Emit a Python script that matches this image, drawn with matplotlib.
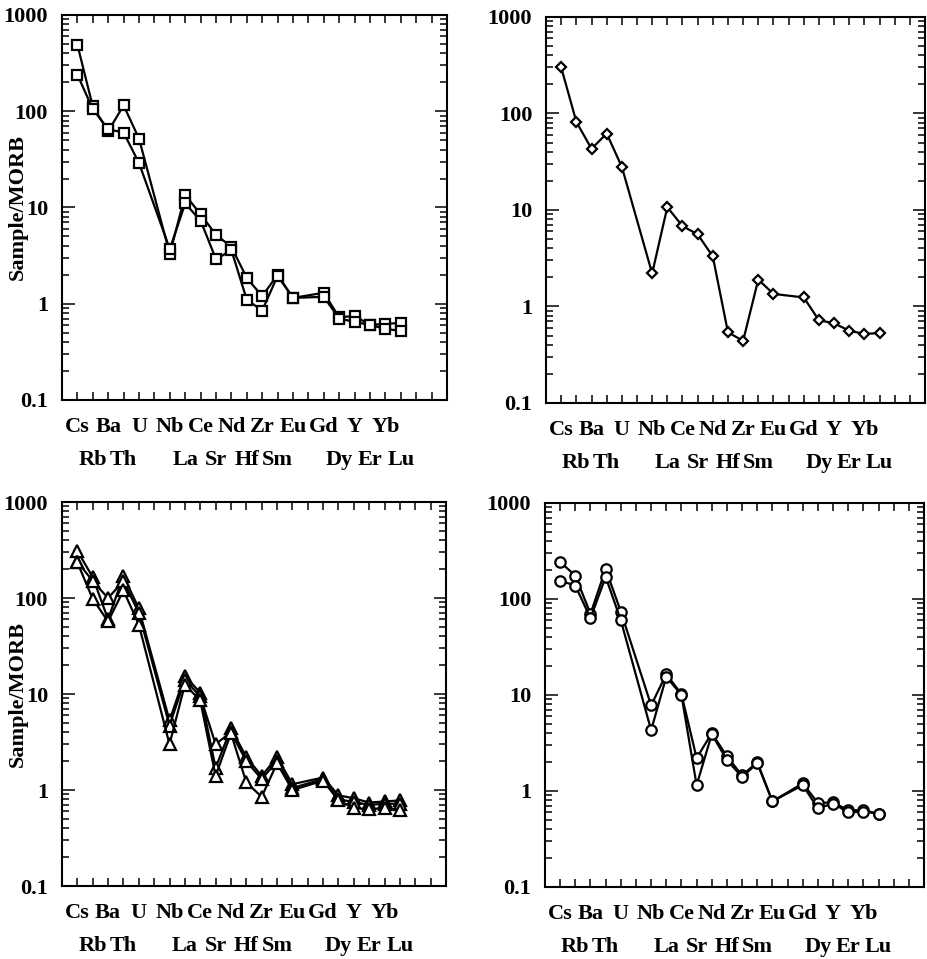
import numpy as np
import matplotlib.pyplot as plt
from matplotlib.ticker import LogLocator, NullFormatter

plt.rcParams['font.family'] = ['Liberation Serif', 'DejaVu Serif']
plt.rcParams['font.weight'] = 'bold'

# x-axis slots of the spider diagram ('' = unlabelled gap)
slots = ['Cs', 'Rb', 'Ba', 'Th', 'U', '', 'Nb', 'La', 'Ce', 'Sr', 'Nd',
         'Hf', 'Zr', 'Sm', 'Eu', '', 'Gd', 'Dy', 'Y', 'Er', 'Yb', 'Lu']
upper_row = ['Cs', 'Ba', 'U', 'Nb', 'Ce', 'Nd', 'Zr', 'Eu', 'Gd', 'Y', 'Yb']
elements = [s for s in slots if s]

# panel 1 (squares)
sq_1 = [490, 112, 62, 115, 52, 3.3, 13.5, 8.5, 5.2, 3.9, 1.85, 1.2, 2.0, 1.15, 1.3, 0.72, 0.75, 0.60, 0.62, 0.63]
sq_2 = [240, 105, 65, 60, 29, 3.7, 11.0, 7.3, 2.9, 3.6, 1.1, 0.85, 1.95, 1.15, 1.18, 0.70, 0.65, 0.60, 0.55, 0.52]

# panel 2 (diamonds)
dm_1 = [300, 82, 43, 62, 28, 2.2, 10.7, 6.8, 5.6, 3.3, 0.54, 0.44, 1.9, 1.35, 1.24, 0.72, 0.67, 0.56, 0.52, 0.53]

# panel 3 (triangles)
tr_1 = [310, 165, 60, 170, 78, 5.3, 15.5, 10.3, 1.7, 4.4, 2.2, 1.4, 2.2, 1.15, 1.35, 0.88, 0.82, 0.74, 0.76, 0.78]
tr_2 = [240, 150, 100, 150, 70, 4.7, 14.0, 9.5, 3.0, 4.0, 2.0, 1.3, 2.0, 1.05, 1.3, 0.80, 0.75, 0.70, 0.72, 0.72]
tr_3 = [235, 98, 57, 120, 53, 3.0, 12.5, 8.6, 1.4, 3.9, 1.2, 0.85, 1.9, 1.0, 1.25, 0.78, 0.65, 0.63, 0.65, 0.62]

# panel 4 (circles)
ci_1 = [243, 175, 70, 205, 74, 7.8, 16.5, 10.2, 2.2, 4.0, 2.3, 1.45, 2.0, 0.78, 1.2, 0.75, 0.76, 0.63, 0.63, 0.58]
ci_2 = [155, 138, 63, 170, 60, 4.3, 15.5, 10.0, 1.15, 3.9, 2.1, 1.4, 1.95, 0.78, 1.15, 0.66, 0.74, 0.60, 0.61, 0.58]

y_ticks = [0.1, 1, 10, 100, 1000]
y_tick_labels = ['0.1', '1', '10', '100', '1000']


def spider(ax, series, marker, ms, ylabel=False):
    x = [slots.index(e) + 1 for e in elements]
    for vals in series:
        ax.plot(x, vals, color='black', lw=1.6, marker=marker, ms=ms,
                mfc='white', mec='black', mew=1.6)

    ax.set_yscale('log')
    ax.set_ylim(0.1, 1000)
    ax.set_xlim(0, 25)

    ax.set_yticks(y_ticks)
    ax.set_yticklabels(y_tick_labels)
    ax.yaxis.set_minor_locator(LogLocator(base=10, subs=np.arange(2, 10)))
    ax.yaxis.set_minor_formatter(NullFormatter())

    # tick marks at every slot; upper-row names as major labels,
    # lower-row names as (invisible-tick) minor labels further down
    ticks = list(range(1, 25))
    top_labels = []
    for t in ticks:
        name = slots[t - 1] if t <= len(slots) else ''
        top_labels.append(name if name in upper_row else '')
    low_names = [e for e in elements if e not in upper_row]
    low_ticks = [slots.index(e) + 1 for e in low_names]

    ax.xaxis.remove_overlapping_locs = False
    ax.set_xticks(ticks)
    ax.set_xticklabels(top_labels)
    ax.set_xticks(low_ticks, minor=True)
    ax.set_xticklabels(low_names, minor=True)

    ax.tick_params(axis='x', which='major', direction='in', length=6, width=1.1,
                   top=True, pad=12, labelsize=16)
    ax.tick_params(axis='x', which='minor', direction='in', length=0,
                   top=False, pad=36, labelsize=16)
    ax.tick_params(axis='y', which='major', direction='in', length=9, width=1.1,
                   right=True, pad=10, labelsize=16)
    ax.tick_params(axis='y', which='minor', direction='in', length=5, width=1.1,
                   right=True)
    for sp in ax.spines.values():
        sp.set_linewidth(1.5)

    if ylabel:
        ax.set_ylabel('Sample/MORB', fontsize=16, fontweight='bold')
        ax.yaxis.set_label_coords(-0.09, 0.5)


fig = plt.figure(figsize=(9.28, 9.59), dpi=100)
ax1 = fig.add_axes([0.0668, 0.5829, 0.4149, 0.4015])
ax2 = fig.add_axes([0.5884, 0.5798, 0.4084, 0.4025])
ax3 = fig.add_axes([0.0668, 0.0761, 0.4138, 0.4004])
ax4 = fig.add_axes([0.5873, 0.0751, 0.4084, 0.4004])

spider(ax1, [sq_1, sq_2], 's', 7.5, ylabel=True)
spider(ax2, [dm_1], 'D', 5.5)
spider(ax3, [tr_1, tr_2, tr_3], '^', 9, ylabel=True)
spider(ax4, [ci_1, ci_2], 'o', 7.5)

fig.savefig('out.png', dpi=100)
